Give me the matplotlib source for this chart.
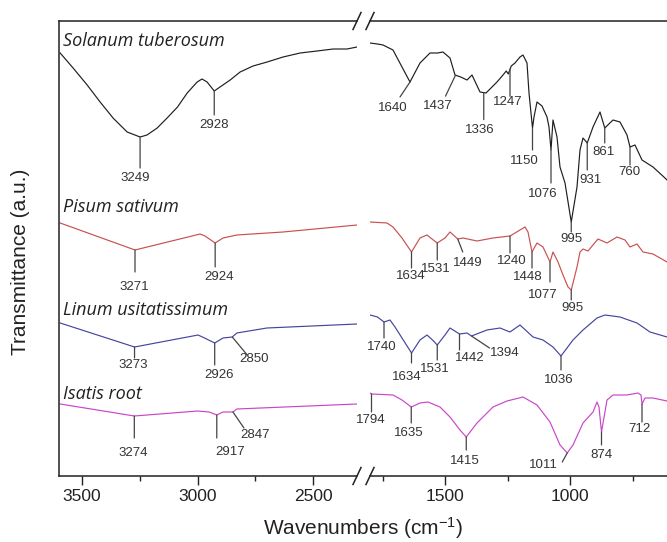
import numpy as np
import matplotlib.pyplot as plt
from matplotlib.lines import Line2D
import matplotlib.ticker as mticker

plt.rcParams['font.family'] = ['Liberation Sans', 'DejaVu Sans']
plt.rcParams['mathtext.fontset'] = 'custom'
plt.rcParams['mathtext.rm'] = 'Liberation Sans'
plt.rcParams['mathtext.it'] = 'Liberation Sans:italic'

# --- datos (lectura del espectro, transmitancia en u.a.) ---
sol_wn = [3595, 3539, 3478, 3422, 3366, 3305, 3249, 3219, 3175, 3132, 3087, 3045, 3002, 2981,
          2959, 2928, 2903, 2859, 2816, 2760, 2699, 2630, 2556, 2483, 2413, 2353, 2310,
          1800, 1770, 1748, 1708, 1672, 1640, 1600, 1560, 1530, 1508, 1480, 1460, 1437, 1412,
          1392, 1360, 1336, 1292, 1268, 1255, 1247, 1235, 1220, 1200, 1188, 1172, 1164, 1150,
          1144, 1132, 1112, 1092, 1084, 1076, 1068, 1052, 1040, 1020, 995, 972, 960, 948, 931,
          908, 880, 861, 828, 800, 772, 760, 740, 712, 668, 620, 612]
sol_t = [423, 408, 391, 374, 358, 344, 339, 341, 348, 358, 369, 383, 394, 397,
         394, 385, 389, 396, 404, 410, 414, 419, 423, 425, 427, 427, 429,
         433, 432, 431, 426, 409, 394, 413, 423, 423, 424, 418, 401, 399, 396,
         401, 384, 383, 394, 401, 405, 402, 410, 413, 419, 421, 413, 383, 348,
         359, 374, 370, 359, 349, 326, 356, 339, 309, 293, 254, 289, 326, 338, 333,
         349, 364, 348, 356, 354, 341, 329, 331, 316, 309, 298, 296]

pis_wn = [3595, 3271, 2989, 2968, 2924, 2890, 2830, 2630, 2310,
          1800, 1732, 1708, 1672, 1634, 1600, 1572, 1552, 1531, 1500, 1480, 1449, 1428, 1372,
          1308, 1240, 1180, 1168, 1152, 1132, 1108, 1080, 1068, 1048, 1028, 1008, 995, 972,
          960, 948, 928, 888, 852, 812, 780, 760, 732, 708, 668, 612]
pis_t = [253, 226, 242, 240, 233, 238, 241, 244, 251,
         254, 253, 249, 238, 224, 238, 241, 237, 233, 238, 244, 237, 238, 235,
         238, 240, 249, 244, 224, 233, 229, 214, 224, 214, 201, 189, 186, 209,
         224, 227, 225, 237, 233, 239, 236, 229, 232, 224, 222, 214]

lin_wn = [3595, 3273, 2998, 2970, 2926, 2890, 2850, 2830, 2700, 2310,
          1800, 1770, 1744, 1720, 1700, 1672, 1634, 1600, 1572, 1550, 1531, 1500, 1480, 1442,
          1412, 1394, 1332, 1280, 1240, 1200, 1148, 1108, 1068, 1036, 988, 948, 892, 860,
          800, 732, 680, 612]
lin_t = [153, 129, 141, 138, 133, 138, 139, 143, 148, 152,
         161, 159, 154, 156, 149, 138, 123, 136, 141, 136, 131, 141, 148, 142,
         143, 140, 146, 148, 144, 151, 139, 136, 129, 120, 136, 146, 158, 161,
         159, 153, 144, 139]

isa_wn = [3595, 3274, 3000, 2950, 2917, 2890, 2847, 2830, 2310,
          1800, 1794, 1708, 1672, 1635, 1600, 1568, 1520, 1480, 1440, 1415, 1372, 1308, 1252,
          1188, 1132, 1080, 1040, 1011, 988, 948, 908, 892, 884, 874, 852, 828, 772, 728,
          716, 712, 700, 668, 612]
isa_t = [72, 60, 65, 64, 61, 64, 64, 67, 72,
         83, 82, 81, 76, 69, 73, 74, 69, 59, 46, 39, 53, 69, 75,
         79, 71, 54, 31, 23, 31, 53, 64, 74, 69, 44, 76, 81, 81, 83,
         81, 72, 78, 78, 75]

# picos: etiqueta y posicion donde se marca
sol_lab = ['3249', '2928', '1640', '1437', '1336', '1247', '1150', '1076', '995', '931', '861', '760']
sol_pos = [3249, 2928, 1640, 1458, 1345, 1240, 1150, 1076, 995, 931, 861, 760]
pis_lab = ['3271', '2924', '1634', '1531', '1449', '1240', '1448', '1077', '995']
pis_pos = [3271, 2924, 1634, 1531, 1449, 1240, 1152, 1080, 995]
lin_lab = ['3273', '2926', '2850', '1740', '1634', '1531', '1442', '1394', '1036']
lin_pos = [3273, 2926, 2850, 1744, 1634, 1531, 1442, 1394, 1036]
isa_lab = ['3274', '2917', '2847', '1794', '1635', '1415', '1011', '874', '712']
isa_pos = [3274, 2917, 2847, 1794, 1635, 1415, 1011, 874, 712]

nombres = ['Solanum tuberosum', 'Pisum sativum', 'Linum usitatissimum', 'Isatis root']
colores = ['#1e1e1e', '#c8504f', '#45459e', '#c846c8']

# --- layout de las marcas (pixeles: fin de linea, centro del texto) ---
sol_off = [((0, -31), (-5, -41)), ((0, -24), (0, -34)), ((-10, -15), (-17, -26)),
           ((-10, -21), (-18, -31)), ((0, -27), (-4, -37)), ((0, -27), (-2, -33)),
           ((0, -22), (-8, -33)), ((0, -33), (-8, -44)), ((0, -10), (0, -17)),
           ((0, -27), (3, -37)), ((0, -15), (-1, -24)), ((0, -18), (-1, -25))]
pis_off = [((0, -22), (-1, -37)), ((0, -24), (4, -34)), ((0, -16), (-1, -24)),
           ((0, -17), (-1, -26)), ((5, -13), (10, -24)), ((0, -17), (2, -25)),
           ((0, -16), (-4, -25)), ((0, -20), (-7, -33)), ((0, -10), (1, -18))]
lin_off = [((0, -11), (-1, -18)), ((0, -22), (4, -32)), ((15, -18), (22, -22)),
           ((0, -16), (-2, -25)), ((0, -10), (-5, -24)), ((0, -15), (-2, -24)),
           ((0, -16), (10, -24)), ((18, -12), (33, -17)), ((0, -14), (-2, -24))]
isa_off = [((0, -22), (-1, -37)), ((0, -23), (13, -37)), ((11, -16), (22, -23)),
           ((0, -18), (-1, -26)), ((0, -16), (-2, -26)), ((0, -13), (-1, -24)),
           ((-5, -9), (-24, -12)), ((0, -13), (0, -23)), ((0, -18), (-3, -25))]
nombre_y = [435, 269, 166, 82]

W, H = 667, 542
fig = plt.figure(figsize=(W / 100, H / 100), dpi=100)
x1, x2, x3 = 59, 357, 370
yb, yt = 476, 21
ax1 = fig.add_axes([x1 / W, 1 - yb / H, (x2 - x1) / W, (yb - yt) / H])
ax2 = fig.add_axes([x3 / W, 1 - yb / H, (W - x3) / W, (yb - yt) / H])

ax1.set_xlim(3600, 2310)
ax2.set_xlim(1800, 612)
for ax in (ax1, ax2):
    ax.set_ylim(0, 455)
    ax.set_yticks([])
    ax.spines['right'].set_visible(False)
    for s in ax.spines.values():
        s.set_linewidth(1.1)
        s.set_color('#222222')
    ax.tick_params(axis='x', which='major', direction='out', length=6.5, width=1.0,
                   labelsize=12.5, pad=3, colors='#222222')
    ax.tick_params(axis='x', which='minor', direction='out', length=3.5, width=1.0, colors='#222222')
    ax.xaxis.set_major_locator(mticker.MultipleLocator(500))
    ax.xaxis.set_minor_locator(mticker.MultipleLocator(250))
ax2.spines['left'].set_visible(False)

series = [(sol_wn, sol_t, sol_lab, sol_pos, sol_off),
          (pis_wn, pis_t, pis_lab, pis_pos, pis_off),
          (lin_wn, lin_t, lin_lab, lin_pos, lin_off),
          (isa_wn, isa_t, isa_lab, isa_pos, isa_off)]

for (wn, t, lab, pos, off), nom, col, ny in zip(series, nombres, colores, nombre_y):
    for ax in (ax1, ax2):
        ax.plot(wn, t, color=col, lw=0.85)
    for l, p, (le, te) in zip(lab, pos, off):
        ax = ax1 if p > 2000 else ax2
        y = np.interp(p, wn[::-1], t[::-1])
        ax.annotate('', xy=(p, y), xytext=le, textcoords='offset pixels',
                    arrowprops=dict(arrowstyle='-', color='#444444', lw=0.9,
                                    shrinkA=0, shrinkB=0))
        ax.annotate(l, xy=(p, y), xytext=te, textcoords='offset pixels',
                    ha='center', va='center', fontsize=9.5, color='#333333')
    ax1.text(3582, ny, nom, fontsize=13, style='italic', family=['Open Sans', 'DejaVu Sans'],
             color='#222222', va='center', ha='left')

# marcas de corte //
for ycen in (yt, yb):
    for xc in (x2, x3):
        fig.add_artist(Line2D([(xc - 4) / W, (xc + 4) / W],
                              [1 - (ycen + 8.5) / H, 1 - (ycen - 8.5) / H],
                              transform=fig.transFigure, color='#222222', lw=1.1))

fig.text(363 / W, 1 - 535 / H, 'Wavenumbers (cm$^{-1}$)', ha='center', va='baseline',
         fontsize=15, color='#222222')
fig.text(21 / W, 1 - 262 / H, 'Transmittance (a.u.)', ha='center', va='center',
         rotation=90, fontsize=15, color='#222222')

fig.savefig('out.png', dpi=100)
